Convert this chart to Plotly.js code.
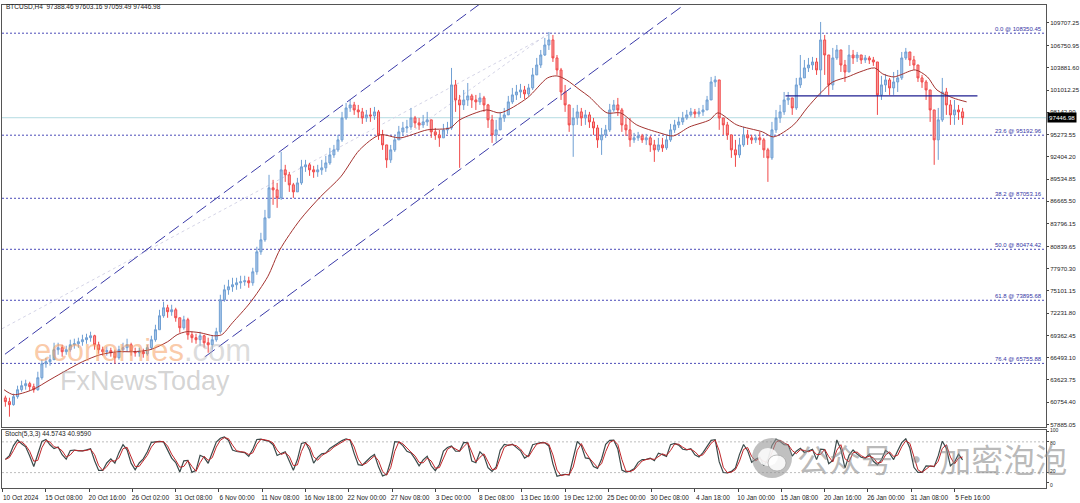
<!DOCTYPE html>
<html><head><meta charset="utf-8">
<script src="https://cdn.plot.ly/plotly-3.0.1.min.js"></script>
<style>html,body{margin:0;padding:0;background:#fff}#c{width:1080px;height:503px}</style>
</head><body><div id="c"></div>
<script>
// ---- data (12H aggregated bars) ----
const firstOpen = 61300;
const closes = [60820,60430,61460,62360,62880,63140,62750,62360,63910,65710,
65970,66230,67520,67780,67260,67520,68160,68290,68550,68810,
69070,69320,68160,67520,67260,67390,67130,66490,67520,67780,
68160,67260,67130,67260,67000,67780,68810,70100,71900,72930,
72420,72670,71640,70350,71390,69450,69070,68810,69320,68420,
68160,68810,69840,73960,75250,75640,75900,76150,76280,76410,
76150,77570,80150,81700,84530,88400,88140,87110,90720,90080,
88790,87880,89040,91110,91370,90720,90460,90720,90980,91620,
92650,93300,94590,97420,98710,99100,98450,98200,97420,97810,
97680,98200,95230,93940,92010,93300,94590,95620,96130,96260,
97420,96780,96520,96910,97170,95620,95230,94850,95880,96130,
101680,99740,99100,99740,100260,99740,99490,100000,99100,97170,
95230,95880,97420,97810,99490,100390,100770,101030,100520,101290,
102970,104250,105540,106830,107480,105160,103610,100770,99100,96520,
97420,98200,97420,97810,96910,96130,94590,95230,95880,98450,
99100,98450,96520,95880,94590,94850,95100,94590,94850,93940,
93300,93940,93560,94590,95880,96520,96910,97420,97810,98200,
97940,98200,98450,99740,102060,102320,97420,96520,95230,93300,
92650,93940,95230,94850,94590,94850,94590,93300,92270,95880,
97420,98200,99740,100000,98710,101680,102580,103870,104250,104640,
103610,107480,105540,101680,105160,106190,104250,103350,105540,105160,
105540,104900,105160,104900,104640,100390,101680,102320,101290,102060,
102580,105160,105930,104900,104250,102580,102060,101030,98450,94590,
97170,100770,99100,97810,98450,98200,97446.98];
const highs = [61590,61330,61850,62880,63520,63650,63390,63140,64680,66230,
66490,66870,68420,68420,68160,68030,68810,68940,69070,69450,
69580,69840,69450,68550,67910,67910,67780,67520,68030,68420,
68940,68420,67780,67780,67650,68160,69320,70740,72670,73710,
73320,73320,72930,71640,71900,71640,69840,69580,69840,69450,
69070,69320,70350,74610,75900,76540,76800,76800,77060,77060,
76930,78090,80800,82600,85560,90080,89430,89040,93040,91370,
90460,89040,89690,92010,92010,91620,91240,91370,92010,92530,
93560,93940,95230,98200,99360,99740,99490,99100,98710,98450,
98710,98840,98450,95880,93940,93940,95230,96390,96910,97170,
98710,97680,97420,97810,98200,97170,96130,95880,96650,96910,
103870,102320,100390,101030,101930,100520,100390,100650,100260,99230,
97810,97170,98200,98710,100260,101290,101680,101810,101550,101810,
103870,105160,106190,107740,108510,108120,105540,103870,101680,99100,
98710,99100,98710,98450,98200,97420,96520,96130,96520,99230,
99740,100000,98710,97420,97420,95490,95620,95360,95360,95100,
94590,94850,94850,95230,96650,97170,97550,98200,98450,98710,
98580,98710,99100,100260,102710,102840,102320,97420,96910,95230,
94590,94850,96260,95880,95230,95230,95620,94850,93560,96910,
98450,99100,100770,100770,99740,102580,105540,104900,105160,105290,
105160,109800,108120,104250,106450,106830,105540,104900,106830,106190,
105930,105540,105540,105420,105290,104640,102840,103090,102580,103350,
103610,105930,106450,105930,105420,104250,102970,102320,100770,98450,
98710,102580,101290,99740,99740,99100,98710];
const lows = [60170,58880,60300,61200,62100,62360,62230,61980,62230,63650,
65200,65460,66230,66870,66620,66870,67260,67650,67780,68030,
68290,68550,67520,67000,66750,66750,66620,65710,66230,67130,
67260,66750,66620,66620,66490,66750,67520,68550,70100,71640,
71640,71900,71130,69710,70100,68810,68420,68290,68030,67780,
67130,67520,68550,69580,73710,74610,74990,75250,75380,75770,
75510,75770,77190,79760,81440,84920,86210,85820,86850,89170,
87880,87110,87880,88790,90460,89950,89690,89820,90080,90460,
91370,92270,93040,94330,97170,98200,97810,97420,96650,96910,
96910,97170,94590,93300,90980,91620,93040,94590,95100,95490,
95880,96130,95880,96130,96390,94850,94590,93690,94850,95360,
95880,98200,90980,98450,98970,98710,98450,99100,98200,96130,
94200,94330,95880,96910,98200,99230,99740,100000,99870,100260,
101030,102970,103870,105420,106190,104640,102970,99740,98200,95620,
92400,96520,96390,96520,96130,95230,93560,92650,94850,95620,
98200,97680,95620,95100,93690,94200,94460,94200,93940,93040,
91750,93040,93040,93300,94330,95490,96130,96520,97170,97550,
97420,97550,97680,98450,99740,101420,95880,95230,94590,92270,
91110,92270,93690,93940,94070,94200,93940,92270,89170,92010,
95490,96780,97810,99100,97810,98450,101290,102840,103350,103610,
102970,100390,102970,100390,101030,104900,103350,102060,103350,104380,
104640,104380,104510,104380,104130,97810,99740,100770,100390,100390,
100770,102320,104900,104130,103610,102060,101290,99740,96910,91370,
92010,96910,97810,96520,96520,97170,96520];

// moving average (position in 4H bars, value)
const maIdx = [0,7,21,34,47,58,71,84,95,108,121,128,135,145,155,161,169,182,195,204,219,234,249,263,278,293,313,330,337,357,367,387,402,409,416,426,433,446,456,468,485,495,507,522,528,542,561,569,584,594,604,613,624,633,644,650,658,663,674,683,690,702,712];
const maVal = [62360,61720,62360,63650,64940,65970,66870,67260,67260,67520,68550,69450,69840,69710,69320,69450,71000,73580,76930,80410,84280,87240,89820,93300,95230,94850,95880,96130,97170,98450,98070,100000,102580,102840,102320,101030,100130,98070,98070,96520,95490,95100,96260,97170,98070,96520,95620,94970,96520,98710,100650,102060,102710,103350,103870,103090,102710,102970,103610,102710,101030,100000,99490];

const yTicks = [109707.25,106750.95,103881.60,101012.25,98142.90,95273.55,92404.20,89534.85,86665.50,83796.15,80839.65,77970.30,75101.15,72231.80,69362.45,66493.10,63623.75,60754.40,57885.05];
const stochTicks = [0,20,80,100];
const xTickText = ['10 Oct 2024','15 Oct 08:00','20 Oct 16:00','26 Oct 02:00','31 Oct 08:00','6 Nov 00:00','11 Nov 08:00','16 Nov 18:00','22 Nov 00:00','27 Nov 08:00','3 Dec 00:00','8 Dec 08:00','13 Dec 16:00','19 Dec 12:00','25 Dec 00:00','30 Dec 08:00','4 Jan 18:00','10 Jan 00:00','15 Jan 08:00','20 Jan 16:00','26 Jan 00:00','31 Jan 08:00','5 Feb 16:00'];
const fiboLevels = ['0.0','23.6','38.2','50.0','61.8','76.4'];
const fiboPrices = [108350.45,95192.96,87053.16,80474.42,73895.68,65755.88];
const lastPrice = 97446.98;
const headerText = 'BTCUSD,H4  97388.46 97603.16 97059.49 97446.98';
const stochText = 'Stoch(5,3,3) 44.5743 40.9590';
// drawn objects (bar index, price)
const channelUpper = {x:[0.7,359.5], y:[66938,113091]};
const channelLower = {x:[148.7,507.4], y:[66616,112569]};
const faintA = {x:[-1.5,402.4], y:[70225,108122]};
const faintB = {x:[292.9,400], y:[94587,107993]};
const resistance = {x:[578,720], y:100259};

// ---- derived ----
const opens = closes.map((c,i)=> i===0 ? firstOpen : closes[i-1]);
const H = highs.map((h,i)=>Math.max(h,opens[i],closes[i]));
const L = lows.map((l,i)=>Math.min(l,opens[i],closes[i]));
const barX = closes.map((_,i)=>3*i+1);
function stoch(h,l,c,kp,sl,dp){
  const K=[],D=[];
  for(let i=0;i<c.length;i++){
    let num=0,den=0;
    for(let j=Math.max(0,i-sl+1);j<=i;j++){
      let hh=-Infinity,ll=Infinity;
      for(let k=Math.max(0,j-kp+1);k<=j;k++){hh=Math.max(hh,h[k]);ll=Math.min(ll,l[k]);}
      num+=c[j]-ll;den+=hh-ll;
    }
    K.push(den>0?100*num/den:50);
  }
  for(let i=0;i<K.length;i++){let s=0,m=0;for(let j=Math.max(0,i-dp+1);j<=i;j++){s+=K[j];m++;}D.push(s/m);}
  return [K,D];
}
const [stK,stD] = stoch(H,L,closes,2,2,2);

const F = 'Liberation Sans, Arial, sans-serif';
const traces = [
 {type:'candlestick', x:barX, open:opens, high:H, low:L, close:closes, xaxis:'x', yaxis:'y',
  increasing:{line:{color:'#6f9fd3',width:1}, fillcolor:'#a8c6e8'},
  decreasing:{line:{color:'#f04848',width:1}, fillcolor:'#f7a0a0'},
  whiskerwidth:0, hoverinfo:'skip'},
 {type:'scatter', mode:'lines', x:maIdx, y:maVal, xaxis:'x', yaxis:'y',
  line:{color:'#a3322f',width:1,shape:'spline',smoothing:0.8}, hoverinfo:'skip'},
 {type:'scatter', mode:'lines', x:barX, y:stK, xaxis:'x2', yaxis:'y2',
  line:{color:'#3a4a4a',width:1.2}, hoverinfo:'skip'},
 {type:'scatter', mode:'lines', x:barX, y:stD, xaxis:'x2', yaxis:'y2',
  line:{color:'#c0262a',width:1}, hoverinfo:'skip'}
];

const shapes = [];
shapes.push({type:'line', xref:'paper', x0:0, x1:1, yref:'y', y0:lastPrice, y1:lastPrice, line:{color:'#b4dbe2',width:1}, layer:'below'});
fiboPrices.forEach(p=>shapes.push({type:'line', xref:'paper', x0:0, x1:1, yref:'y', y0:p, y1:p, line:{color:'#4a4ab8',width:1,dash:'2px,2px'}, layer:'below'}));
[faintA,faintB].forEach(o=>shapes.push({type:'line', xref:'x', yref:'y', x0:o.x[0], x1:o.x[1], y0:o.y[0], y1:o.y[1], line:{color:'#d4d4e6',width:1,dash:'3px,3px'}, layer:'below'}));
[channelUpper,channelLower].forEach(o=>shapes.push({type:'line', xref:'x', yref:'y', x0:o.x[0], x1:o.x[1], y0:o.y[0], y1:o.y[1], line:{color:'#3a3aa8',width:1,dash:'12px,5px'}}));
shapes.push({type:'line', xref:'x', yref:'y', x0:resistance.x[0], x1:resistance.x[1], y0:resistance.y, y1:resistance.y, line:{color:'#1e1e90',width:1.3}});
[20,80].forEach(v=>shapes.push({type:'line', xref:'paper', x0:0, x1:1, yref:'y2', y0:v, y1:v, line:{color:'#bdbdbd',width:1,dash:'2px,2px'}, layer:'below'}));
// wechat icon (watermark)
shapes.push({type:'circle', xref:'paper', yref:'paper', x0:(752-2)/1044, x1:(792-2)/1044, y0:(488-478)/483, y1:(488-438)/483, fillcolor:'rgba(150,150,150,0.6)', line:{width:0}});
shapes.push({type:'circle', xref:'paper', yref:'paper', x0:(758-2)/1044, x1:(778-2)/1044, y0:(488-466)/483, y1:(488-448)/483, fillcolor:'rgba(255,255,255,0.85)', line:{width:0}});
shapes.push({type:'circle', xref:'paper', yref:'paper', x0:(768-2)/1044, x1:(786-2)/1044, y0:(488-471)/483, y1:(488-455)/483, fillcolor:'rgba(255,255,255,0.85)', line:{color:'rgba(150,150,150,0.6)',width:1}});

const px = v => (v-2)/1044, py = v => (488-v)/483;
const annotations = [
 {xref:'paper', yref:'paper', x:px(4), y:py(7), xanchor:'left', yanchor:'middle', text:headerText, showarrow:false, font:{family:F,size:6.5,color:'#222'}},
 {xref:'paper', yref:'paper', x:px(3), y:py(434), xanchor:'left', yanchor:'middle', text:stochText, showarrow:false, font:{family:F,size:6.5,color:'#222'}},
 {xref:'paper', yref:'y', x:1, y:lastPrice, xanchor:'left', yanchor:'middle', xshift:1, text:lastPrice.toFixed(2), showarrow:false, bgcolor:'#000', borderpad:1, font:{family:F,size:6.2,color:'#fff'}},
 {xref:'paper', yref:'paper', x:px(32), y:py(350), xanchor:'left', yanchor:'middle', showarrow:false,
  text:'<span style="color:rgba(246,158,96,0.55)">economies</span><span style="color:rgba(185,185,185,0.5)">.com</span>', font:{family:F,size:31}},
 {xref:'paper', yref:'paper', x:px(58), y:py(381), xanchor:'left', yanchor:'middle', showarrow:false,
  text:'FxNewsToday', font:{family:F,size:27,color:'rgba(160,160,160,0.45)'}},
 {xref:'paper', yref:'paper', x:px(795), y:py(458), xanchor:'left', yanchor:'middle', showarrow:false,
  text:'公众号 · 加密泡泡', font:{family:'Noto Sans CJK SC, sans-serif',size:32,color:'rgba(140,140,140,0.6)'}}
];
fiboLevels.forEach((lv,i)=>annotations.push({xref:'paper', yref:'y', x:px(1044), y:fiboPrices[i], xanchor:'right', yanchor:'bottom', yshift:-1, showarrow:false,
  text:lv+' @ '+fiboPrices[i].toFixed(2), font:{family:F,size:6,color:'#3535a5'}}));
// stochastic scale labels
const stochShift = {0:-2, 20:1.5, 80:-1.5, 100:2};
stochTicks.forEach(v=>annotations.push({xref:'paper', yref:'y2', x:1, y:v, xanchor:'left', yanchor:'middle', xshift:3, yshift:stochShift[v], showarrow:false,
  text:String(v), font:{family:F,size:5,color:'#222'}, borderpad:0}));

const xr = [-1.5,770.7];
const layout = {
 width:1080, height:503, margin:{l:2,r:34,t:5,b:15,pad:0},
 paper_bgcolor:'#fff', plot_bgcolor:'#fff', showlegend:false, hovermode:false,
 xaxis:{domain:[0,1], anchor:'y', range:xr, showticklabels:false, showgrid:false, zeroline:false,
  showline:true, mirror:true, linecolor:'#555', linewidth:1, ticks:'', rangeslider:{visible:false}},
 xaxis2:{domain:[0,1], anchor:'y2', range:xr, matches:'x', showgrid:false, zeroline:false,
  tickvals:xTickText.map((_,k)=>32*k-1), ticktext:xTickText, ticks:'outside', ticklen:3, tickcolor:'#444',
  ticklabelshift:18, tickfont:{family:F,size:6.5,color:'#222'}, showline:true, mirror:true, linecolor:'#555', linewidth:1},
 yaxis:{domain:[0.127,1], anchor:'x', side:'right', range:[57593,111988], showgrid:false, zeroline:false,
  tickvals:yTicks, ticktext:yTicks.map(v=>v.toFixed(2)), ticks:'outside', ticklen:2, tickcolor:'#444',
  tickfont:{family:F,size:6.1,color:'#222'}, showline:true, mirror:true, linecolor:'#555', linewidth:1},
 yaxis2:{domain:[0,0.121], anchor:'x2', side:'right', range:[-10,104], showgrid:false, zeroline:false,
  tickvals:stochTicks, showticklabels:false, ticks:'outside', ticklen:2, tickcolor:'#444',
  showline:true, mirror:true, linecolor:'#555', linewidth:1},
 shapes:shapes, annotations:annotations
};
Plotly.newPlot('c', traces, layout, {staticPlot:true, displayModeBar:false});
</script></body></html>
